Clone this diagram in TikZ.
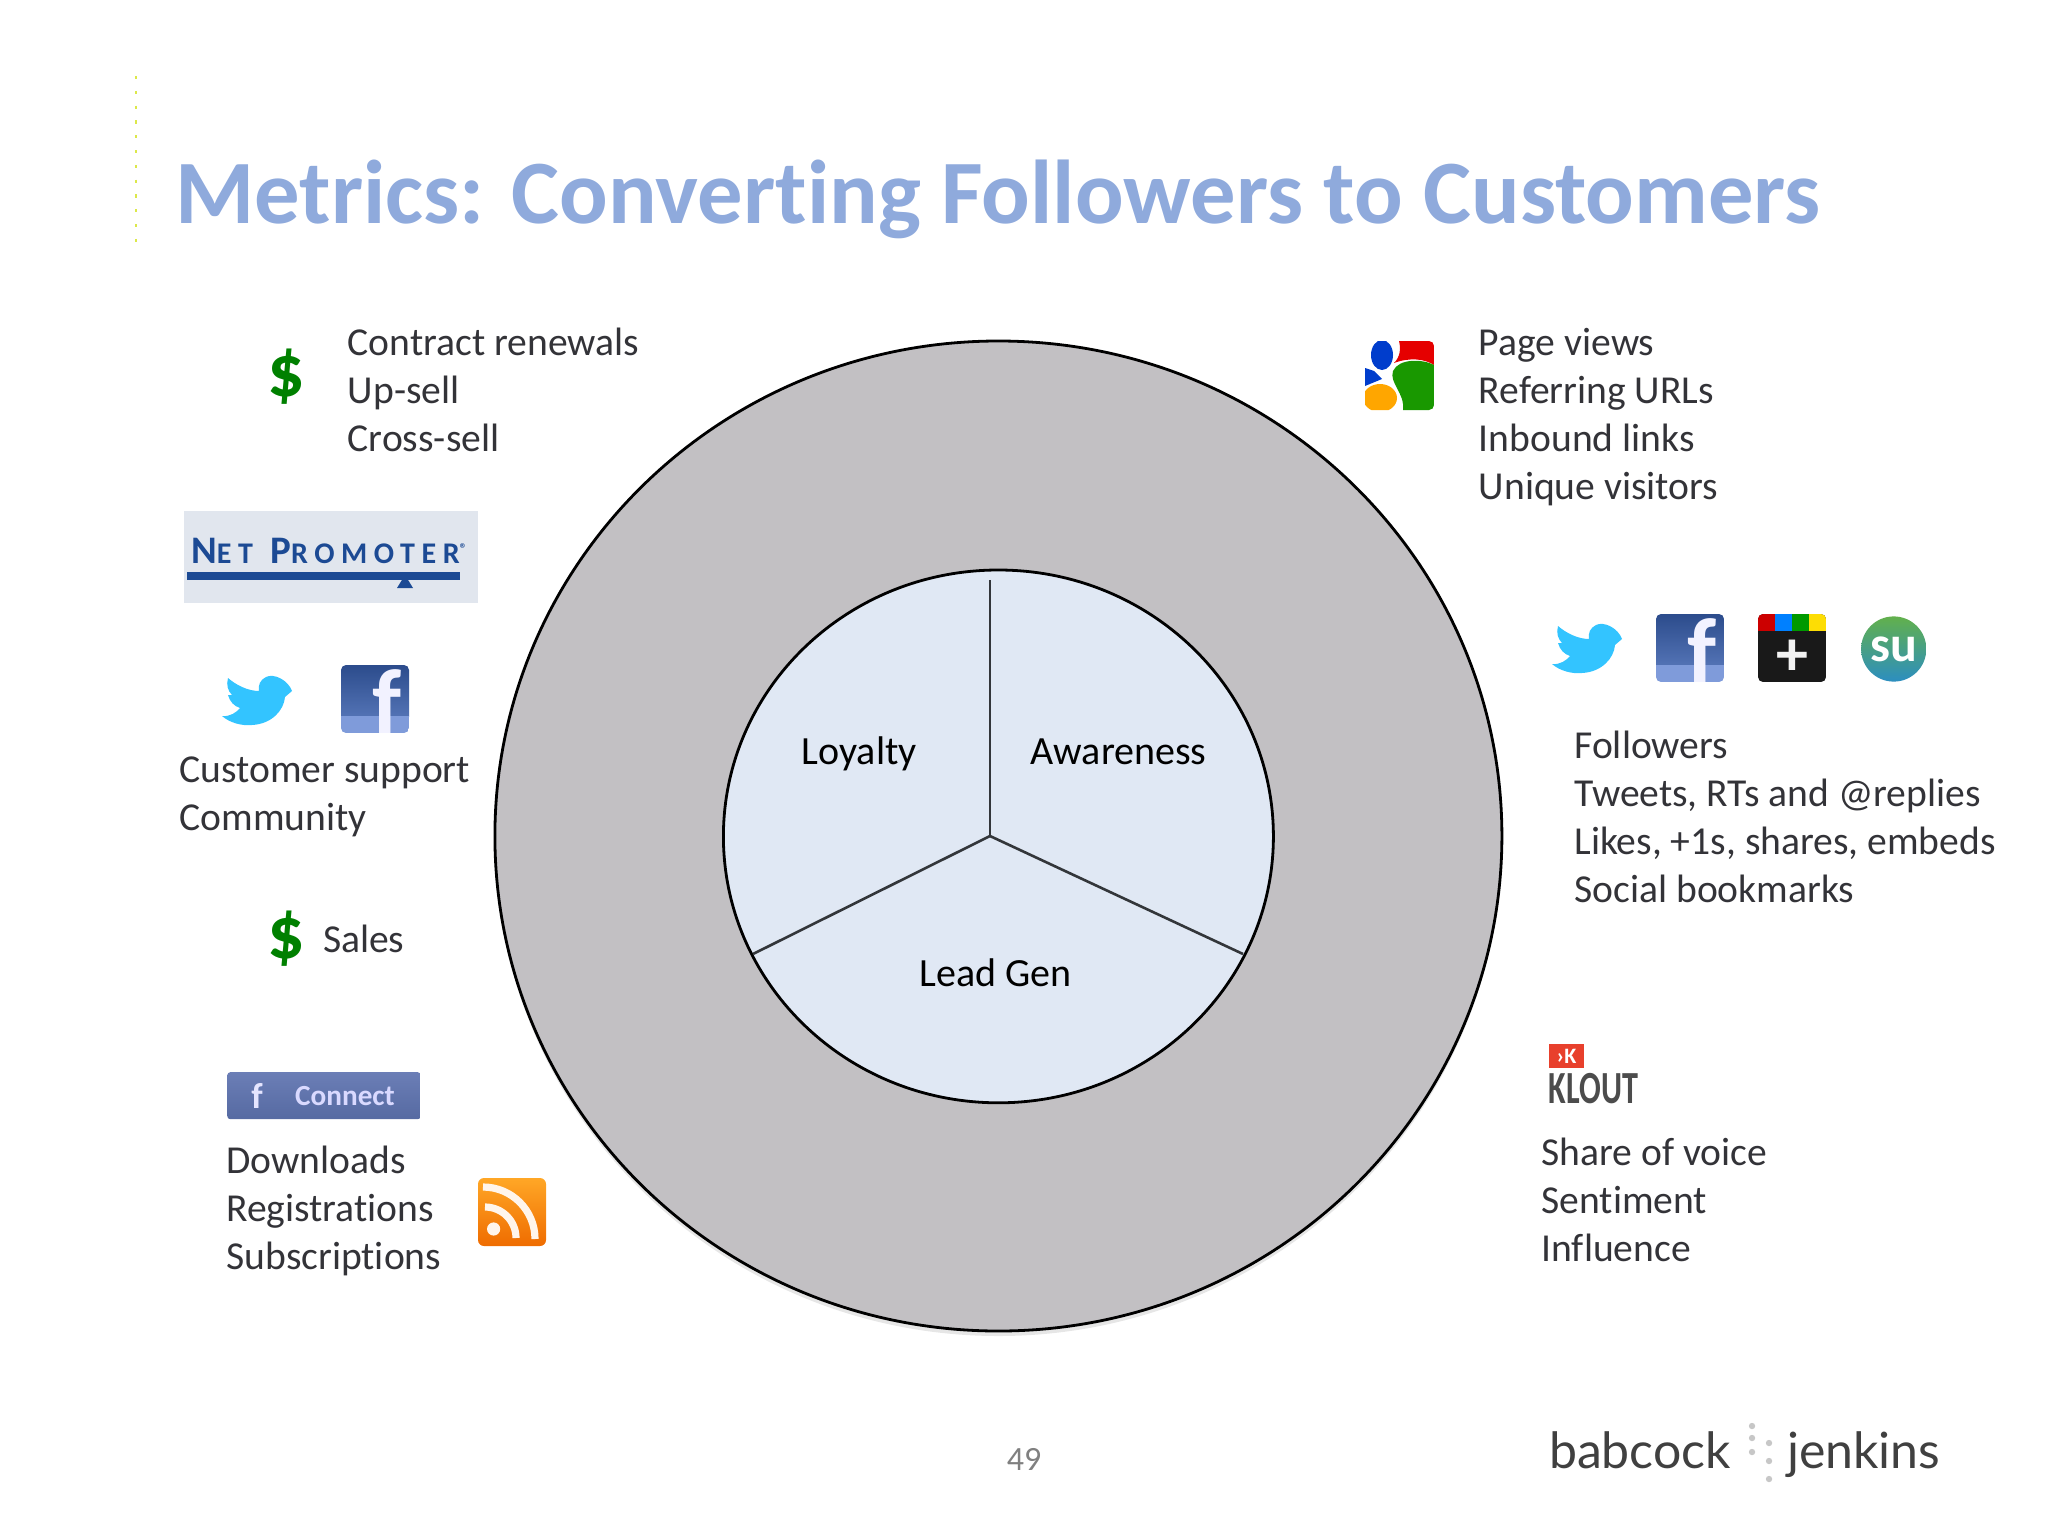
\documentclass[tikz,border=0pt]{standalone}
\usepackage{fontspec}
\usepackage{xcolor}
\usetikzlibrary{shapes}
\usetikzlibrary{shadows}
\usetikzlibrary{positioning}
\setmainfont[Ligatures=NoCommon]{Carlito}
\newfontfamily\logofont{Lato}
\newfontfamily\promofont[LetterSpace=22]{Carlito}
\newfontfamily\kloutfont[FakeStretch=0.7]{Carlito}
\definecolor{titleblue}{HTML}{8FAADC}
\definecolor{ringgray}{HTML}{C2C0C3}
\definecolor{corefill}{HTML}{E0E8F4}
\definecolor{inkgray}{HTML}{333338}
\definecolor{spokegray}{HTML}{33363A}
\definecolor{moneygreen}{HTML}{008000}
\definecolor{birdblue}{HTML}{33C4FF}
\definecolor{promoblue}{HTML}{1C4A94}
\definecolor{promofill}{HTML}{E1E6EE}
\definecolor{fbtop}{HTML}{2C4C8C}
\definecolor{fbmid}{HTML}{5272B4}
\definecolor{fbband}{HTML}{7F9BDA}
\definecolor{connecttop}{HTML}{6B7EB6}
\definecolor{connectlow}{HTML}{566AA2}
\definecolor{rsstop}{HTML}{FFA726}
\definecolor{rsslow}{HTML}{EF6C00}
\definecolor{sutop}{HTML}{62B04C}
\definecolor{sulow}{HTML}{2C8EC0}
\definecolor{kloutred}{HTML}{E8402C}
\definecolor{dotyellow}{HTML}{DCE84A}
\tikzset{
    metric/.style={align=left, anchor=north west, inner sep=0, text=inkgray, font=\fontsize{19.8}{23.95}\selectfont},
    segment/.style={anchor=base, inner sep=0, text=black, font=\fontsize{20}{24}\selectfont},
    money/.style={inner sep=0, text=moneygreen, font=\fontsize{37}{37}\selectfont\bfseries},
    glyph/.style={inner sep=0, text=white, font=\bfseries},
    spoke/.style={line width=1.3pt, spokegray},
    rim/.style={ellipse, draw=black, line width=1.4pt, inner sep=0},
    logoword/.style={anchor=base, inner sep=0, text=black!75, font=\fontsize{25}{25}\selectfont\logofont},
    bird/.pic={
        \fill[birdblue] (70,16) .. controls (66,5) and (52,-2) .. (44,2) .. controls (38,5) and (36,10) .. (37,16) .. controls (26,16) and (14,10) .. (6,3) .. controls (4,10) and (6,16) .. (10,20) -- (6,20) .. controls (8,27) and (12,31) .. (18,33) .. controls (15,37) and (8,42) .. (0,41) .. controls (8,48) and (20,51) .. (30,50) .. controls (50,49) and (62,35) .. (63,22) -- cycle;
    },
    fbook/.pic={
        \begin{scope}
            \path[clip, rounded corners=2.5pt] (0,0) rectangle (68,68);
            \shade[top color=fbtop, bottom color=fbmid] (0,0) rectangle (68,51);
            \fill[fbband] (0,51) rectangle (68,68);
        \end{scope}
        \node[glyph, text=white!95!blue, font=\fontsize{46}{46}\selectfont\bfseries] (-letter) at (46,37) {f};
    },
}
\begin{document}
\begin{tikzpicture}[x=0.5pt, y=-0.5pt]
        \useasboundingbox (0,0) rectangle (2048,1536);

        \draw[dotyellow, line width=1.2pt, dash pattern=on 1.6pt off 5.8pt] (136,76) -- (136,242);
        \node[anchor=base west, inner sep=0, text=titleblue, font=\fontsize{45.3}{45.3}\selectfont\bfseries] (title) at (175,223) {Metrics: Converting Followers to Customers};

        \node[rim, fill=ringgray, minimum width=503.5pt, minimum height=495pt, drop shadow={shadow xshift=0pt, shadow yshift=-2.5pt, opacity=.2}] (outer_ring) at (998.4,836) {};
        \node[rim, fill=corefill, minimum width=275pt, minimum height=266.4pt] (inner_core) at (998.4,836.4) {};
        \coordinate (hub) at (990,836);
        \coordinate (spoke_top) at (990,580);
        \coordinate (spoke_left) at (753,954);
        \coordinate (spoke_right) at (1243,954);
        \draw[spoke] (hub) -- (spoke_top);
        \draw[spoke] (hub) -- (spoke_left);
        \draw[spoke] (hub) -- (spoke_right);
        \node[segment] (loyalty) at (859.2,764) {Loyalty};
        \node[segment] (awareness) at (1118.5,764) {Awareness};
        \node[segment] (lead_gen) at (995.5,986) {Lead Gen};

        \node[money] (dollar_renewals) at (286,377) {\$};
        \node[metric] (renewals) at (347.4,327.5) {Contract renewals\\Up-sell\\Cross-sell};

        \node[rectangle, fill=promofill, minimum width=147pt, minimum height=46pt, inner sep=0] (promoter) at (331,557) {};
        \node[inner sep=0, text=promoblue, font=\fontsize{19.5}{19.5}\selectfont\promofont\bfseries] (promoter_text) at (329,551) {N{\fontsize{15}{15}\selectfont ET} P{\fontsize{15}{15}\selectfont ROMOTER}{\fontsize{7}{7}\selectfont\raisebox{5pt}{®}}};
        \fill[promoblue] (187,572) rectangle (460,580);
        \fill[promoblue] (397,588) -- (405,575) -- (413,588) -- cycle;

        \pic at (222,675) {bird};
        \pic at (341,665) {fbook};
        \node[metric] (support) at (179,756) {Customer support\\Community};

        \node[money] (dollar_sales) at (286,939) {\$};
        \node[metric] (sales) at (322.6,925) {Sales};

        \node[rectangle, rounded corners=1.5pt, top color=connecttop, bottom color=connectlow, minimum width=96.7pt, minimum height=23.5pt, inner sep=0] (connect) at (324,1095.7) {};
        \node[glyph, text=white!90!blue, font=\fontsize{18}{18}\selectfont\bfseries] (connect_f) at (257,1096) {f};
        \node[glyph, text=white!85!blue, font=\fontsize{14.6}{14.6}\selectfont\bfseries] (connect_text) at (345,1096) {Connect};
        \node[metric] (downloads) at (226,1146) {Downloads\\Registrations\\Subscriptions};

        \node[rectangle, rounded corners=3pt, top color=rsstop, bottom color=rsslow, minimum width=34pt, minimum height=34pt, inner sep=0] (rss) at (512,1212) {};
        \fill[white!92!orange] (493.6,1229) circle (3.3pt);
        \draw[white!92!orange, line width=3.6pt] (485,1207) arc[start angle=90, end angle=0, radius=15.5pt];
        \draw[white!92!orange, line width=3.6pt] (483,1187) arc[start angle=90, end angle=0, radius=26pt];

        \begin{scope}[shift={(1365,341)}]
            \path[clip, rounded corners=2.5pt] (0,0) rectangle (69,69);
            \fill[white] (0,0) rectangle (69,69);
            \fill[red!90!black] (34,0) .. controls (36,8) and (35,16) .. (29,22) .. controls (45,16) and (60,18) .. (69,24) -- (69,0) -- cycle;
            \fill[green!55!black!90!yellow] (38,69) .. controls (40,52) and (24,42) .. (28,30) .. controls (34,17) and (58,18) .. (69,24) -- (69,69) -- cycle;
            \fill[blue!70!cyan!80!black] (17,14) ellipse (11 and 15);
            \fill[blue!70!cyan!80!black] (0,27) -- (9,30) -- (17,38) -- (0,45) -- cycle;
            \fill[orange!70!yellow] (15,57) ellipse (17 and 14);
        \end{scope}
        \node[metric] (web_stats) at (1478.5,328) {Page views\\Referring URLs\\Inbound links\\Unique visitors};

        \pic at (1552,623) {bird};
        \pic at (1656,614) {fbook};

        \begin{scope}[shift={(1758,614)}]
            \path[clip, rounded corners=2.5pt] (0,0) rectangle (68,68);
            \fill[black!90] (0,0) rectangle (68,68);
            \fill[red!80!black] (0,0) rectangle (17,17);
            \fill[blue!50!cyan] (17,0) rectangle (34,17);
            \fill[green!60!black] (34,0) rectangle (51,17);
            \fill[yellow!80!orange] (51,0) rectangle (68,17);
        \end{scope}
        \node[glyph, text=white!90!gray, font=\fontsize{32}{32}\selectfont\bfseries] (plus_sign) at (1792,658) {+};

        \node[circle, top color=sutop, bottom color=sulow, minimum size=32.6pt, inner sep=0] (stumble) at (1893.7,649) {};
        \node[glyph, font=\fontsize{25}{25}\selectfont\bfseries] (stumble_text) at (1893.7,649) {su};
        \node[metric] (social_stats) at (1574,731) {Followers\\Tweets, RTs and @replies\\Likes, +1s, shares, embeds\\Social bookmarks};

        \node[rectangle, fill=kloutred, minimum width=17.6pt, minimum height=12.4pt, inner sep=0] (klout_flag) at (1566.5,1056) {};
        \node[glyph, font=\fontsize{11}{11}\selectfont\bfseries] (klout_k) at (1566.5,1056) {›K};
        \node[inner sep=0, text=black!70, font=\fontsize{23}{23}\selectfont\kloutfont\bfseries] (klout) at (1593.3,1088.5) {KLOUT};
        \node[metric] (voice_stats) at (1541,1137.5) {Share of voice\\Sentiment\\Influence};

        \node[inner sep=0, text=gray, font=\fontsize{17}{17}\selectfont] (page_number) at (1024,1459) {49};
        \node[logoword] (babcock) at (1640,1468) {babcock};
        \node[logoword] (jenkins) at (1863.7,1468) {jenkins};
        \foreach \dotx/\doty in {1752/1426, 1752/1438, 1769/1443, 1752/1452, 1769/1461, 1769/1479}
            \fill[black!22] (\dotx,\doty) circle (1.6pt);
    \end{tikzpicture}
\end{document}
